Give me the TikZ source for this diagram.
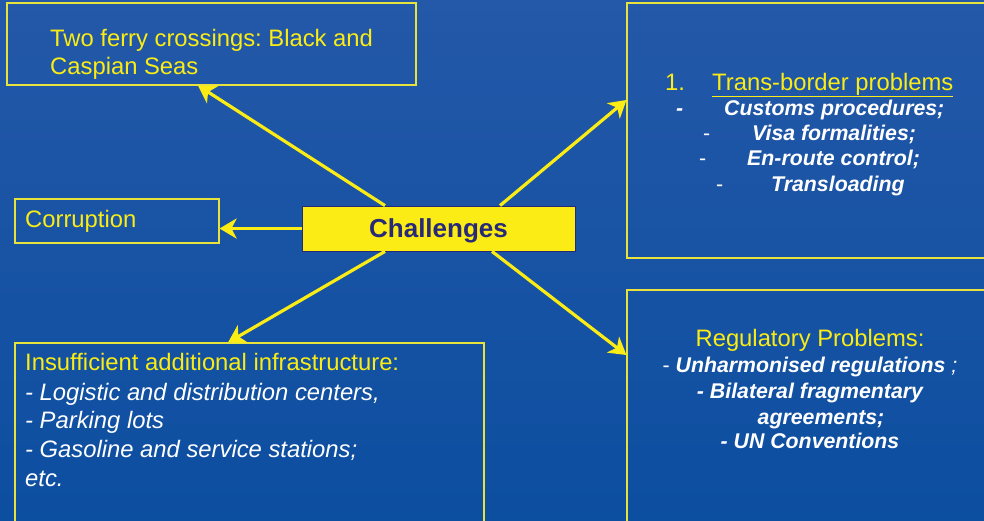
\documentclass[tikz,border=0pt]{standalone}
\usepackage{fontspec}
\setmainfont{Liberation Sans}
\usepackage{xcolor}
\usetikzlibrary{arrows.meta}
\definecolor{slidetop}{RGB}{36,88,168}
\definecolor{slidebot}{RGB}{12,78,160}
\definecolor{lineyel}{RGB}{232,226,60}
\definecolor{headyel}{RGB}{250,236,20}
\definecolor{navy}{RGB}{40,42,120}
\frenchspacing

\begin{document}
\begin{tikzpicture}[x = 1pt, y = -1pt,
  box/.style = {draw = lineyel, line width = 1.1pt, inner sep = 0pt},
  arr/.style = {draw = headyel, line width = 3.2pt, -{Stealth[length = 17pt, width = 20pt, inset = 5pt]}},
  head/.style = {text = headyel, font = \fontsize{23.8}{28}\selectfont, inner sep = 0pt},
  item/.style = {text = white, font = \fontsize{23.8}{28}\selectfont\itshape, inner sep = 0pt},
  bitem/.style = {text = white, font = \fontsize{21.3}{25}\selectfont\bfseries\itshape, inner sep = 0pt},
  bullet/.style = {text = white, font = \fontsize{21.3}{25}\selectfont, inner sep = 0pt}]
  \shade [top color = slidetop, bottom color = slidebot] (0, 0) rectangle (984, 520);
  \useasboundingbox (0, 0) rectangle (984, 520);
  % boxes
  \node [box, minimum width = 409pt, minimum height = 82pt] (ferry) at (211.5, 44) {};
  \node [box, minimum width = 204pt, minimum height = 44pt] (corrupt) at (117, 221) {};
  \node [box, minimum width = 469pt, minimum height = 190pt] (infra) at (249.5, 438) {};
  \node [box, minimum width = 370pt, minimum height = 255pt] (border) at (812, 130.5) {};
  \node [box, minimum width = 370pt, minimum height = 240pt] (regul) at (812, 410) {};
  \node [draw = navy, fill = headyel, line width = .8pt, minimum width = 273pt, minimum height = 45pt,
    text depth = 0pt, font = \fontsize{26}{30}\selectfont\bfseries, text = navy] (chall) at (438.5, 228.5) {Challenges};
  % texts
  \node [head, anchor = base west] (ferryA) at (50, 46) {Two ferry crossings: Black and};
  \node [head, anchor = base west] (ferryB) at (50, 74) {Caspian Seas};
  \node [head, anchor = base west] (corruptT) at (25, 227) {Corruption};
  \node [head, anchor = base west] (infraA) at (25, 370) {Insufficient additional infrastructure:};
  \node [item, anchor = base west] (infraB) at (25, 400) {- Logistic and distribution centers,};
  \node [item, anchor = base west] (infraC) at (25, 428) {- Parking lots};
  \node [item, anchor = base west] (infraD) at (25, 457) {- Gasoline and service stations;};
  \node [item, anchor = base west] (infraE) at (25, 486) {etc.};
  \node [head, anchor = base west] (borderN) at (665, 90) {1.};
  \node [head, anchor = base west] (borderT) at (712, 90) {\underline{Trans-border problems}};
  \node [bitem, anchor = base west] (dashA) at (676, 115) {-};
  \node [bitem, anchor = base west] (borderA) at (724, 115) {Customs procedures;};
  \node [bullet, anchor = base west] (dashB) at (703, 140) {-};
  \node [bitem, anchor = base west] (borderB) at (752, 140) {Visa formalities;};
  \node [bullet, anchor = base west] (dashC) at (699, 165) {-};
  \node [bitem, anchor = base west] (borderC) at (747, 165) {En-route control;};
  \node [bullet, anchor = base west] (dashD) at (716, 191) {-};
  \node [bitem, anchor = base west] (borderD) at (771, 191) {Transloading};
  \node [head, anchor = base] (regulT) at (810, 346) {Regulatory Problems:};
  \node [bitem, anchor = base] (regulA) at (810, 372) {{\mdseries\upshape -} Unharmonised regulations {\mdseries ;}};
  \node [bitem, anchor = base] (regulB) at (810, 398) {- Bilateral fragmentary};
  \node [bitem, anchor = base] (regulC) at (821, 424) {agreements;};
  \node [bitem, anchor = base] (regulD) at (810, 448) {- UN Conventions};
  % arrow ends
  \coordinate (ferryEnd) at (ferry.south -| 198, 0);
  \coordinate (infraEnd) at (infra.north -| 228, 0);
  \coordinate (borderEnd) at (border.west |- 0, 100);
  \coordinate (regulEnd) at (regul.west |- 0, 355);
  \coordinate (challNW) at (chall.north -| 385, 0);
  \coordinate (challSW) at (chall.south -| 385, 0);
  \coordinate (challNE) at (chall.north -| 500, 0);
  \coordinate (challSE) at (chall.south -| 492, 0);
  % arrows
  \draw [arr] (challNW) -- (ferryEnd);
  \draw [arr] (chall.west) -- (corrupt.east |- chall.west);
  \draw [arr] (challSW) -- (infraEnd);
  \draw [arr] (challNE) -- (borderEnd);
  \draw [arr] (challSE) -- (regulEnd);
\end{tikzpicture}
\end{document}
